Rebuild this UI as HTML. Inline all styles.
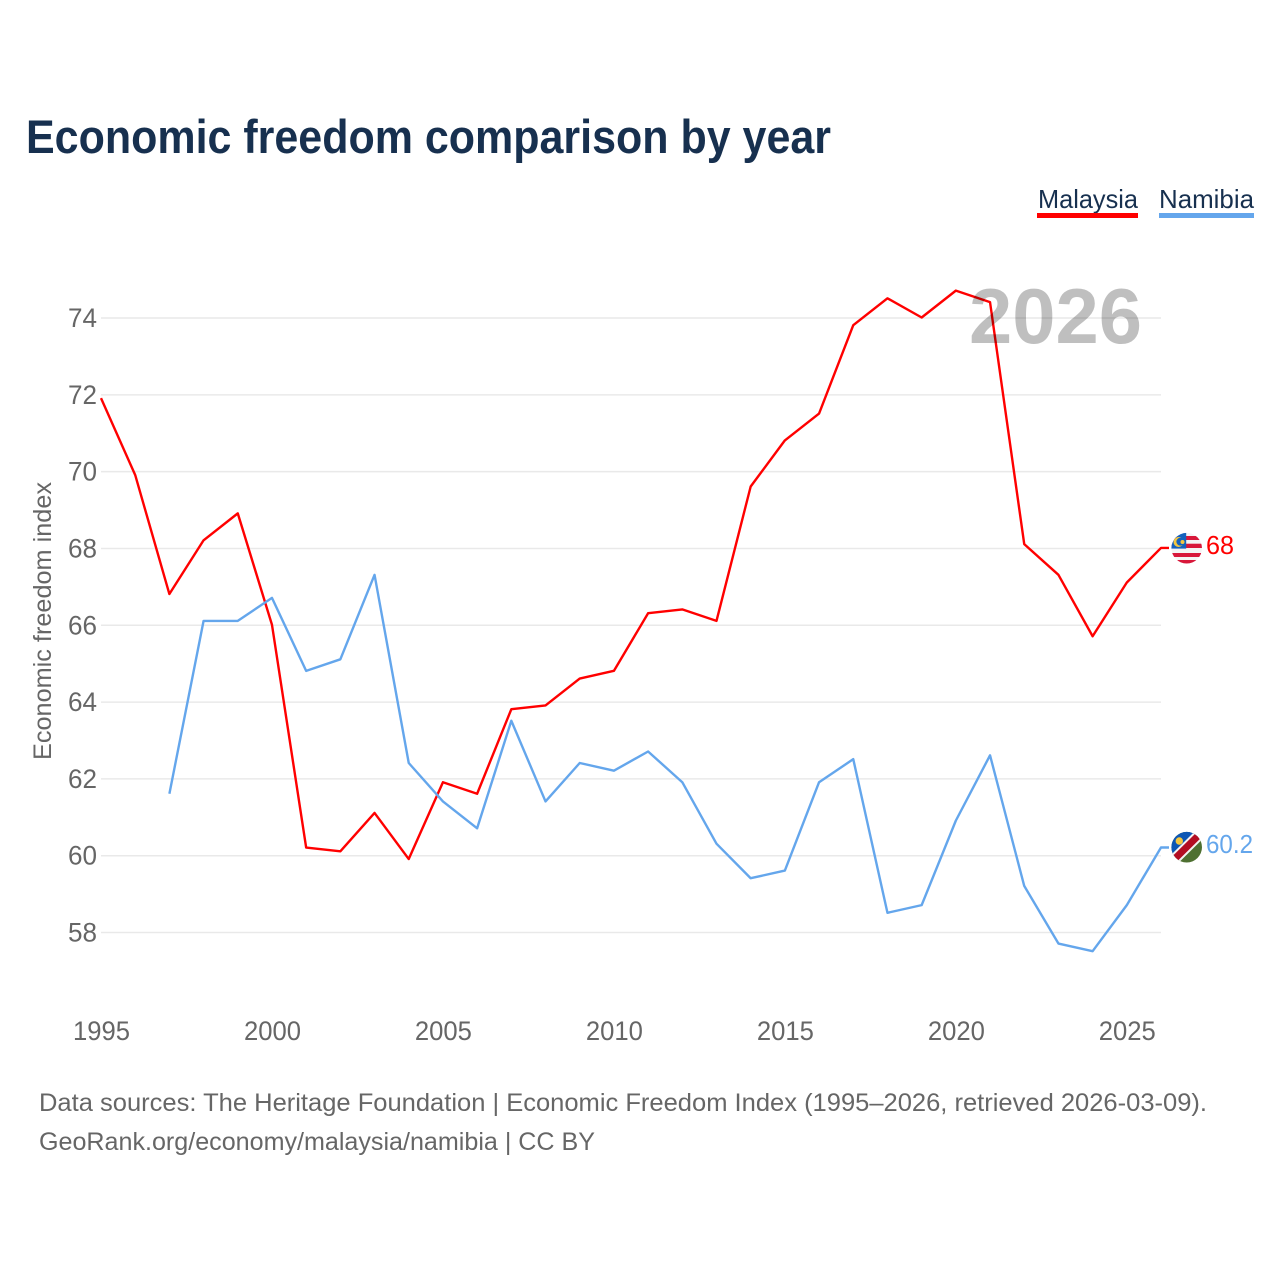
<!DOCTYPE html>
<html lang="en">
<head>
<meta charset="utf-8">
<title>Economic freedom comparison by year</title>
<style>
html,body{margin:0;padding:0;background:#fff;width:1280px;height:1280px;overflow:hidden}
svg{display:block}
text{font-family:"Liberation Sans",sans-serif}
</style>
</head>
<body>
<svg id="chart" width="1280" height="1280" viewBox="0 0 1280 1280" xmlns="http://www.w3.org/2000/svg">
  <defs>
    <clipPath id="flag-clip-a"><circle cx="1186.7" cy="548.2" r="15.3"></circle></clipPath>
    <clipPath id="flag-clip-b"><circle cx="1186.7" cy="847.2" r="15.3"></circle></clipPath>
  </defs>
  <text x="26" y="153" font-size="47" font-weight="700" fill="#17304f" textLength="805" lengthAdjust="spacingAndGlyphs">Economic freedom comparison by year</text>

  <g>
    <text x="1038" y="208" font-size="26" fill="#17304f" textLength="100" lengthAdjust="spacingAndGlyphs">Malaysia</text>
    <rect x="1037" y="213" width="101" height="5" fill="#ff0000"></rect>
  </g>
  <g>
    <text x="1159" y="208" font-size="26" fill="#17304f" textLength="95" lengthAdjust="spacingAndGlyphs">Namibia</text>
    <rect x="1159" y="213" width="95" height="5" fill="#64a6ec"></rect>
  </g>

  <g id="grid"></g>
  <g id="y-axis"></g>
  <g id="x-axis"></g>
  <text transform="translate(51,760) rotate(-90)" x="0" y="0" font-size="25" fill="#666666" textLength="278" lengthAdjust="spacingAndGlyphs">Economic freedom index</text>
  <g id="series" transform="translate(0,-0.5)"></g>
  <text x="969" y="343" font-size="78" font-weight="700" fill="#000000" fill-opacity="0.25" textLength="173" lengthAdjust="spacingAndGlyphs">2026</text>

  <g clip-path="url(#flag-clip-a)">
    <rect x="1171" y="532" width="32" height="32" fill="#f4f4f4"></rect>
    <rect x="1171" y="536" width="32" height="4" fill="#d8173a"></rect>
    <rect x="1171" y="543.7" width="32" height="4.3" fill="#d8173a"></rect>
    <rect x="1171" y="553" width="32" height="4" fill="#d8173a"></rect>
    <rect x="1171" y="560" width="32" height="4" fill="#d8173a"></rect>
    <rect x="1171" y="532" width="15.2" height="16.6" fill="#1462bd"></rect>
    <circle cx="1178.5" cy="542" r="5" fill="#f3c63f"></circle>
    <circle cx="1180.3" cy="541.7" r="3.9" fill="#1462bd"></circle>
    <circle cx="1182.5" cy="542" r="2" fill="#f3c63f"></circle>
  </g>
  <text id="end-malaysia" x="1206" y="554" font-size="26" fill="#ff0000" textLength="28" lengthAdjust="spacingAndGlyphs"></text>

  <g clip-path="url(#flag-clip-b)">
    <rect x="1171" y="831" width="32" height="33" fill="#4e7031"></rect>
    <polygon points="1170,831 1204,831 1170,864" fill="#0d57b5"></polygon>
    <line x1="1168" y1="865.5" x2="1205" y2="829" stroke="#f4f4f4" stroke-width="11"></line>
    <line x1="1168" y1="865.5" x2="1205" y2="829" stroke="#b30d22" stroke-width="7"></line>
    <circle cx="1179.3" cy="841" r="3.7" fill="#f3c63f"></circle>
  </g>
  <text id="end-namibia" x="1206" y="853" font-size="26" fill="#64a6ec" textLength="47" lengthAdjust="spacingAndGlyphs"></text>

  <g>
    <text x="39" y="1111" font-size="25" fill="#666666" textLength="1168" lengthAdjust="spacingAndGlyphs">Data sources: The Heritage Foundation | Economic Freedom Index (1995–2026, retrieved 2026-03-09).</text>
    <text x="39" y="1150" font-size="25" fill="#666666" textLength="556" lengthAdjust="spacingAndGlyphs">GeoRank.org/economy/malaysia/namibia | CC BY</text>
  </g>
</svg>
<script>
const years = [1995,1996,1997,1998,1999,2000,2001,2002,2003,2004,2005,2006,2007,2008,2009,2010,2011,2012,2013,2014,2015,2016,2017,2018,2019,2020,2021,2022,2023,2024,2025,2026];
const malaysiaValues = [71.9,69.9,66.8,68.2,68.9,66,60.2,60.1,61.1,59.9,61.9,61.6,63.8,63.9,64.6,64.8,66.3,66.4,66.1,69.6,70.8,71.5,73.8,74.5,74,74.7,74.4,68.1,67.3,65.7,67.1,68];
const namibiaValues = [null,null,61.6,66.1,66.1,66.7,64.8,65.1,67.3,62.4,61.4,60.7,63.5,61.4,62.4,62.2,62.7,61.9,60.3,59.4,59.6,61.9,62.5,58.5,58.7,60.9,62.6,59.2,57.7,57.5,58.7,60.2];
const yTicks = [58,60,62,64,66,68,70,72,74];
const xTicks = [1995,2000,2005,2010,2015,2020,2025];

const SVG_NS = 'http://www.w3.org/2000/svg';
const xScale = function (year) { return 101 + (year - 1995) * (1161 - 101) / 31; };
const yScale = function (value) { return 932.5 - (value - 58) * (932.5 - 318) / 16; };

const gridGroup = document.getElementById('grid');
const yAxisGroup = document.getElementById('y-axis');
const xAxisGroup = document.getElementById('x-axis');
const seriesGroup = document.getElementById('series');

yTicks.forEach(function (tick) {
  const line = document.createElementNS(SVG_NS, 'line');
  
  
  line.setAttribute('x1', xScale(1995));
  line.setAttribute('x2', xScale(2026));
  line.setAttribute('y1', yScale(tick));
  line.setAttribute('y2', yScale(tick));
  line.setAttribute('stroke', '#e9e9e9');
  line.setAttribute('stroke-width', 1.5);
  gridGroup.appendChild(line);

  const label = document.createElementNS(SVG_NS, 'text');
  
  
  label.setAttribute('x', 97);
  label.setAttribute('y', yScale(tick) + 9);
  label.setAttribute('text-anchor', 'end');
  label.setAttribute('font-size', 26.5);
  label.setAttribute('fill', '#666666');
  label.setAttribute('textLength', 29);
  label.setAttribute('lengthAdjust', 'spacingAndGlyphs');
  label.textContent = tick;
  yAxisGroup.appendChild(label);
});

xTicks.forEach(function (tick) {
  const label = document.createElementNS(SVG_NS, 'text');
  
  
  label.setAttribute('x', xScale(tick) + 0.5);
  label.setAttribute('y', 1040);
  label.setAttribute('text-anchor', 'middle');
  label.setAttribute('font-size', 26.5);
  label.setAttribute('fill', '#666666');
  label.setAttribute('textLength', 57);
  label.setAttribute('lengthAdjust', 'spacingAndGlyphs');
  label.textContent = tick;
  xAxisGroup.appendChild(label);
});

const buildPoints = function (values) {
  const pts = [];
  values.forEach(function (value, i) {
    if (value !== null) {
      pts.push(xScale(years[i]).toFixed(2) + ',' + yScale(value).toFixed(2));
    }
  });
  const lastValue = values[values.length - 1];
  pts.push((xScale(years[years.length - 1]) + 8).toFixed(2) + ',' + yScale(lastValue).toFixed(2));
  return pts.join(' ');
};

const malaysiaLine = document.createElementNS(SVG_NS, 'polyline');


malaysiaLine.setAttribute('points', buildPoints(malaysiaValues));
malaysiaLine.setAttribute('fill', 'none');
malaysiaLine.setAttribute('stroke', '#ff0000');
malaysiaLine.setAttribute('stroke-width', 2.4);
malaysiaLine.setAttribute('stroke-linejoin', 'round');
seriesGroup.appendChild(malaysiaLine);

const namibiaLine = document.createElementNS(SVG_NS, 'polyline');


namibiaLine.setAttribute('points', buildPoints(namibiaValues));
namibiaLine.setAttribute('fill', 'none');
namibiaLine.setAttribute('stroke', '#64a6ec');
namibiaLine.setAttribute('stroke-width', 2.4);
namibiaLine.setAttribute('stroke-linejoin', 'round');
seriesGroup.appendChild(namibiaLine);

document.getElementById('end-malaysia').textContent = malaysiaValues[malaysiaValues.length - 1];
document.getElementById('end-namibia').textContent = namibiaValues[namibiaValues.length - 1];
</script>
</body>
</html>
